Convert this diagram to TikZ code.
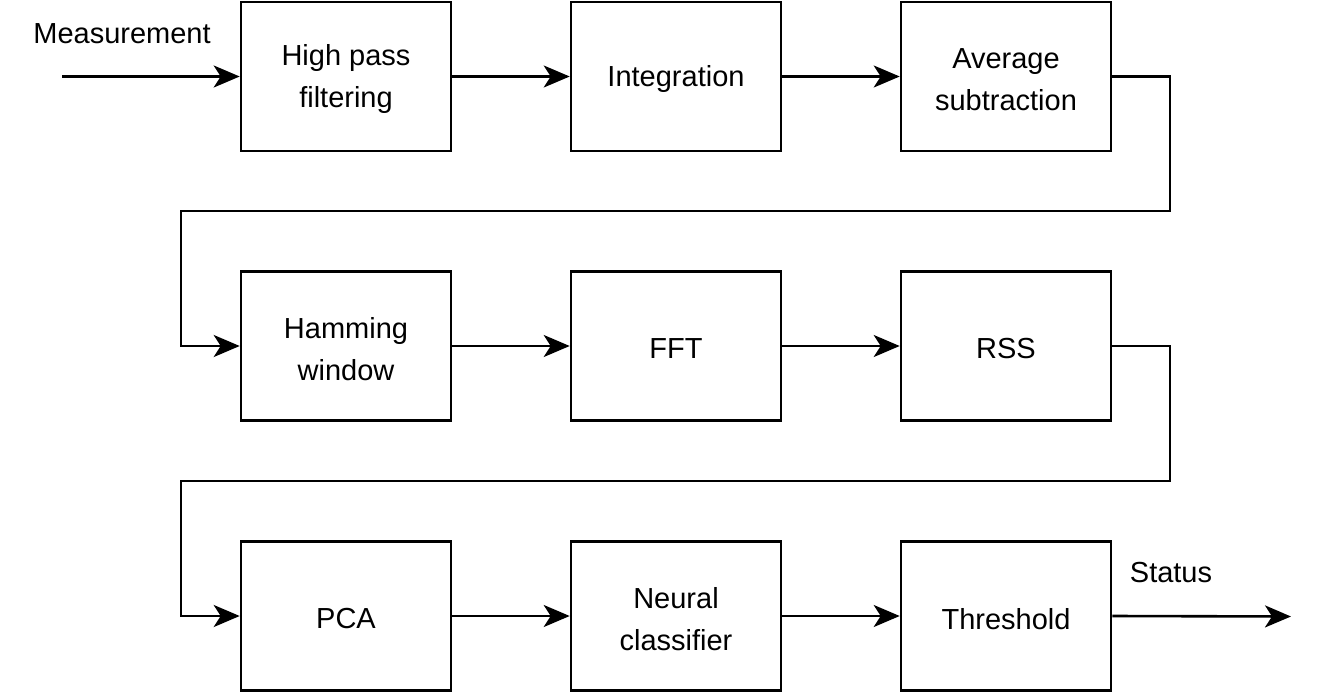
\documentclass[tikz,border=0pt]{standalone}
\usepackage{fontspec}
\setmainfont{Liberation Sans}
\usetikzlibrary{arrows.meta}
\begin{document}
\begin{tikzpicture}[x=1pt,y=-1pt,
  blk/.style={draw=black,line width=2.6pt,minimum width=210pt,minimum height=149pt,inner sep=0pt},
  txt/.style={align=center,inner sep=0pt,font=\fontsize{29}{42}\selectfont},
  conn/.style={line width=2.6pt,-{Stealth[length=26pt,width=22pt,inset=7pt]}},
  lbl/.style={font=\fontsize{29}{42}\selectfont,inner sep=0pt}]
\useasboundingbox (0,0) rectangle (1317,693);
\node[blk] (hp) at (346,76.5) {};
\node[blk] (int) at (676,76.5) {};
\node[blk] (avg) at (1006,76.5) {};
\node[blk] (ham) at (346,346) {};
\node[blk] (fft) at (676,346) {};
\node[blk] (rss) at (1006,346) {};
\node[blk] (pca) at (346,616) {};
\node[blk] (nn) at (676,616) {};
\node[blk] (thr) at (1006,616) {};
\node[txt] (hpt) at ([yshift=-3pt]hp.center) {High pass\\filtering};
\node[txt] (intt) at ([yshift=-3pt]int.center) {Integration};
\node[txt] (avgt) at ([yshift=-3pt]avg.center) {Average\\subtraction};
\node[txt] (hamt) at ([yshift=-3pt]ham.center) {Hamming\\window};
\node[txt] (fftt) at ([yshift=-3pt]fft.center) {FFT};
\node[txt] (rsst) at ([yshift=-3pt]rss.center) {RSS};
\node[txt] (pcat) at ([yshift=-3pt]pca.center) {PCA};
\node[txt] (nnt) at ([yshift=-3pt]nn.center) {Neural\\classifier};
\node[txt] (thrt) at ([yshift=-3pt]thr.center) {Threshold};
\coordinate (min) at (62,76.5);
\coordinate (sout) at (1291,616.5);
\node[lbl] (mlab) at (122,34) {Measurement};
\node[lbl] (slab) at (1171,573) {Status};
\draw[conn] (min) -- (hp.west);
\draw[conn] (hp.east) -- (int.west);
\draw[conn] (int.east) -- (avg.west);
\draw[conn] (avg.east) -- (1170,76.5) -- (1170,211) -- (181,211) -- (181,346) -- (ham.west);
\draw[conn] (ham.east) -- (fft.west);
\draw[conn] (fft.east) -- (rss.west);
\draw[conn] (rss.east) -- (1170,346) -- (1170,481) -- (181,481) -- (181,616) -- (pca.west);
\draw[conn] (pca.east) -- (nn.west);
\draw[conn] (nn.east) -- (thr.west);
\draw[conn] (thr.east) -- (sout);
\end{tikzpicture}
\end{document}
